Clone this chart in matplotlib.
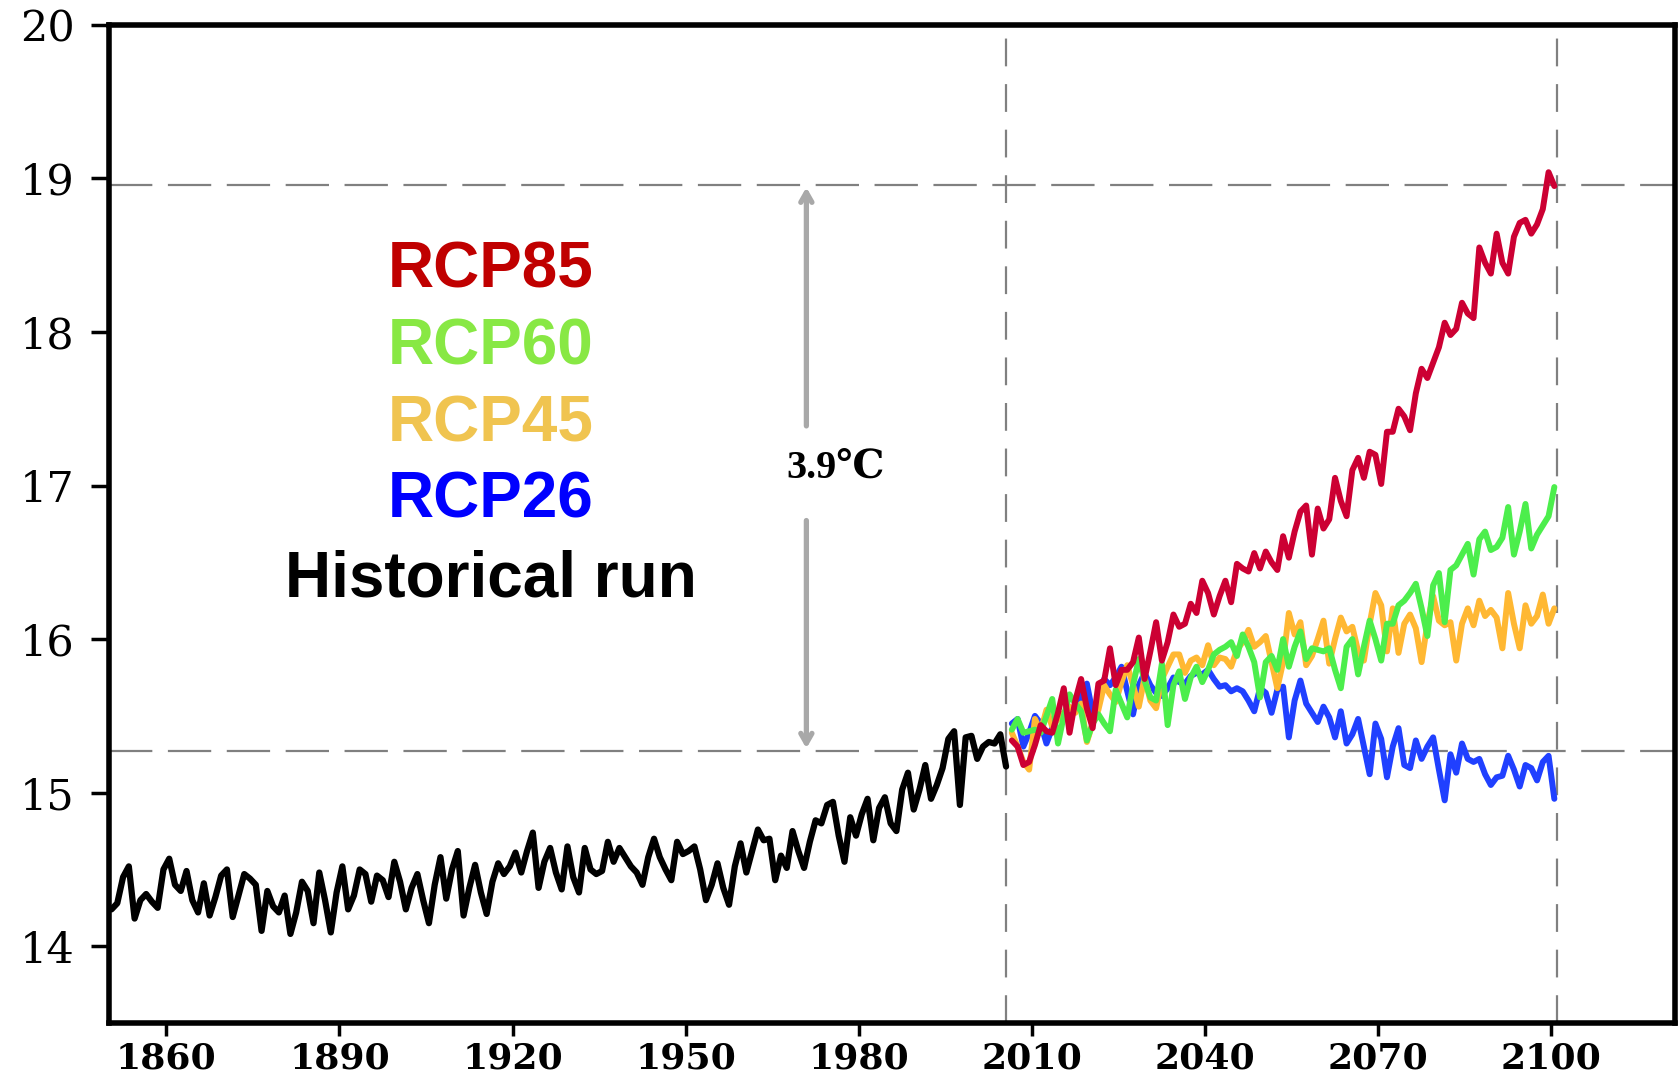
import numpy as np
import matplotlib
matplotlib.use('Agg')
import matplotlib.pyplot as plt

# historical run 1850-2005, annual global mean temperature (degC)
hist_years = np.arange(1850, 2006)
hist_temp = [
    14.24, 14.28, 14.45, 14.52, 14.18, 14.30, 14.34, 14.29, 14.25, 14.50,
    14.57, 14.40, 14.36, 14.49, 14.30, 14.22, 14.41, 14.20, 14.32, 14.46,
    14.50, 14.19, 14.33, 14.47, 14.44, 14.40, 14.10, 14.36, 14.26, 14.22,
    14.33, 14.08, 14.22, 14.42, 14.36, 14.15, 14.48, 14.30, 14.09, 14.35,
    14.52, 14.24, 14.33, 14.50, 14.47, 14.29, 14.46, 14.43, 14.32, 14.55,
    14.42, 14.24, 14.38, 14.47, 14.30, 14.15, 14.40, 14.58, 14.31, 14.50,
    14.62, 14.20, 14.38, 14.53, 14.35, 14.21, 14.42, 14.54, 14.47, 14.52,
    14.61, 14.48, 14.62, 14.74, 14.38, 14.55, 14.64, 14.48, 14.37, 14.65,
    14.45, 14.35, 14.64, 14.50, 14.47, 14.49, 14.68, 14.55, 14.64, 14.58,
    14.52, 14.48, 14.40, 14.58, 14.70, 14.58, 14.50, 14.43, 14.68, 14.60,
    14.62, 14.65, 14.50, 14.30, 14.40, 14.54, 14.38, 14.27, 14.52, 14.67,
    14.48, 14.62, 14.76, 14.69, 14.70, 14.43, 14.59, 14.51, 14.75, 14.62,
    14.51, 14.68, 14.82, 14.80, 14.92, 14.94, 14.72, 14.55, 14.84, 14.72,
    14.86, 14.96, 14.69, 14.90, 14.97, 14.80, 14.75, 15.02, 15.13, 14.89,
    15.02, 15.18, 14.96, 15.05, 15.16, 15.35, 15.40, 14.92, 15.36, 15.37,
    15.22, 15.30, 15.33, 15.32, 15.38, 15.17,
]

# scenario runs 2006-2100
rcp_years = np.arange(2006, 2101)
rcp85 = [
    15.34, 15.30, 15.18, 15.20, 15.31, 15.44, 15.40, 15.39, 15.52, 15.68,
    15.39, 15.60, 15.74, 15.55, 15.42, 15.71, 15.73, 15.94, 15.70, 15.80,
    15.80, 15.85, 16.01, 15.74, 15.92, 16.11, 15.86, 15.98, 16.16, 16.08,
    16.10, 16.23, 16.17, 16.38, 16.30, 16.16, 16.28, 16.38, 16.24, 16.49,
    16.46, 16.44, 16.56, 16.46, 16.57, 16.50, 16.45, 16.67, 16.53, 16.70,
    16.83, 16.87, 16.55, 16.85, 16.72, 16.78, 17.05, 16.90, 16.80, 17.10,
    17.18, 17.05, 17.22, 17.20, 17.01, 17.35, 17.35, 17.50, 17.45, 17.36,
    17.60, 17.76, 17.70, 17.80, 17.90, 18.06, 17.98, 18.02, 18.19, 18.12,
    18.09, 18.55, 18.45, 18.38, 18.64, 18.45, 18.38, 18.62, 18.71, 18.73,
    18.64, 18.70, 18.80, 19.04, 18.95,
]
rcp60 = [
    15.41, 15.48, 15.39, 15.40, 15.41, 15.39, 15.50, 15.61, 15.32, 15.50,
    15.64, 15.58, 15.53, 15.34, 15.45, 15.51, 15.45, 15.40, 15.67, 15.58,
    15.49, 15.70, 15.87, 15.73, 15.62, 15.60, 15.84, 15.44, 15.70, 15.79,
    15.61, 15.75, 15.82, 15.72, 15.80, 15.90, 15.93, 15.95, 15.98, 15.89,
    16.03, 15.95, 15.85, 15.62, 15.85, 15.89, 15.80, 16.00, 15.82, 15.95,
    16.05, 15.87, 15.94, 15.93, 15.92, 15.94, 15.80, 15.68, 15.95, 16.00,
    15.77, 15.95, 16.12, 16.00, 15.86, 16.10, 16.10, 16.22, 16.25, 16.30,
    16.36, 16.20, 16.02, 16.35, 16.43, 16.11, 16.45, 16.48, 16.55, 16.62,
    16.42, 16.65, 16.70, 16.58, 16.60, 16.66, 16.86, 16.55, 16.70, 16.88,
    16.59, 16.68, 16.74, 16.80, 16.99,
]
rcp45 = [
    15.39, 15.30, 15.20, 15.15, 15.48, 15.40, 15.54, 15.43, 15.48, 15.52,
    15.56, 15.52, 15.58, 15.33, 15.45, 15.54, 15.70, 15.64, 15.59, 15.72,
    15.83, 15.70, 15.56, 15.75, 15.60, 15.55, 15.74, 15.82, 15.90, 15.90,
    15.78, 15.86, 15.88, 15.83, 15.96, 15.83, 15.88, 15.87, 15.82, 15.93,
    15.98, 16.06, 15.95, 15.98, 16.02, 15.85, 15.68, 15.85, 16.17, 16.03,
    16.11, 15.83, 15.89, 16.00, 16.12, 15.84, 16.00, 16.14, 16.05, 16.08,
    15.92, 15.86, 16.10, 16.30, 16.22, 15.92, 16.20, 15.91, 16.10, 16.16,
    16.07, 15.85, 16.10, 16.28, 16.12, 16.09, 16.11, 15.86, 16.10, 16.20,
    16.09, 16.25, 16.15, 16.19, 16.14, 15.94, 16.30, 16.10, 15.94, 16.22,
    16.10, 16.15, 16.29, 16.10, 16.20,
]
rcp26 = [
    15.45, 15.48, 15.30, 15.39, 15.50, 15.45, 15.32, 15.42, 15.52, 15.50,
    15.49, 15.55, 15.62, 15.71, 15.52, 15.60, 15.74, 15.70, 15.75, 15.82,
    15.66, 15.51, 15.70, 15.78, 15.70, 15.65, 15.63, 15.68, 15.75, 15.72,
    15.71, 15.76, 15.78, 15.77, 15.80, 15.74, 15.69, 15.70, 15.66, 15.68,
    15.66, 15.60, 15.53, 15.68, 15.65, 15.52, 15.67, 15.69, 15.36, 15.60,
    15.73, 15.58, 15.52, 15.46, 15.56, 15.49, 15.36, 15.53, 15.32, 15.38,
    15.48, 15.30, 15.12, 15.45, 15.35, 15.10, 15.30, 15.42, 15.18, 15.16,
    15.34, 15.22, 15.30, 15.36, 15.15, 14.95, 15.25, 15.13, 15.32, 15.22,
    15.20, 15.22, 15.12, 15.05, 15.10, 15.11, 15.24, 15.15, 15.04, 15.18,
    15.16, 15.08, 15.20, 15.24, 14.96,
]

labels = ['RCP85', 'RCP60', 'RCP45', 'RCP26', 'Historical run']
label_colors = ['#c00000', '#88e844', '#f0c450', '#0000ff', '#000000']

baseline = 15.27   # 2005 level
top_level = 18.96  # RCP85 end level
x_ticks = [1860, 1890, 1920, 1950, 1980, 2010, 2040, 2070, 2100]

fig = plt.figure(figsize=(16.8, 10.78), dpi=100)
ax = fig.add_axes([0.065, 0.051, 0.932, 0.926])

# mid-year positions
line_kw = dict(solid_joinstyle='round', solid_capstyle='round')
ax.plot(rcp_years + 0.5, rcp26, color='#2040ff', lw=4.3, zorder=3, **line_kw)
ax.plot(rcp_years + 0.5, rcp45, color='#ffb833', lw=4.3, zorder=4, **line_kw)
ax.plot(rcp_years + 0.5, rcp60, color='#4cee4c', lw=4.3, zorder=5, **line_kw)
ax.plot(rcp_years + 0.5, rcp85, color='#cc0033', lw=4.3, zorder=6, **line_kw)
ax.plot(hist_years + 0.5, hist_temp, color='black', lw=4.5, zorder=7, **line_kw)

# reference lines
for yv in [baseline, top_level]:
    ax.axhline(yv, color='#808080', lw=1.6, dashes=(19.5, 7), zorder=1)
for xv in [2005.5, 2101]:
    ax.axvline(xv, color='#808080', lw=1.6, dashes=(12.5, 8), zorder=1)

# 3.9 degC arrow
arrow_x = 1970.9
arrow_kw = dict(arrowstyle='->,head_length=0.7,head_width=0.4',
                color='#a8a8a8', lw=3.8)
ax.annotate('', xy=(arrow_x, top_level), xytext=(arrow_x, 17.37),
            arrowprops=arrow_kw)
ax.annotate('', xy=(arrow_x, baseline), xytext=(arrow_x, 16.79),
            arrowprops=arrow_kw)
ax.text(1976, 17.11, '3.9\u2103', ha='center', va='center', fontsize=29,
        fontweight='bold', family=['Liberation Serif', 'DejaVu Serif'])

# scenario labels
label_y = [18.40, 17.90, 17.40, 16.90, 16.39]
for txt, c, yv in zip(labels, label_colors, label_y):
    ax.text(1916.2, yv, txt, color=c, ha='center', va='center', fontsize=46,
            fontweight='bold', family='Liberation Sans')

ax.set_xlim(1850.1, 2121.4)
ax.set_ylim(13.5, 20)
ax.set_xticks(x_ticks)
ax.set_yticks(range(14, 21))

for sp in ax.spines.values():
    sp.set_linewidth(4)
ax.tick_params(axis='y', direction='out', length=13, width=2.5, pad=12)
ax.tick_params(axis='x', direction='out', length=9, width=2.5, pad=4)
for lab in ax.get_yticklabels():
    lab.set_family('DejaVu Serif')
    lab.set_fontsize(31)
for lab in ax.get_xticklabels():
    lab.set_family('DejaVu Serif')
    lab.set_fontsize(26)
    lab.set_fontweight('bold')

fig.savefig('out.png', dpi=100)
